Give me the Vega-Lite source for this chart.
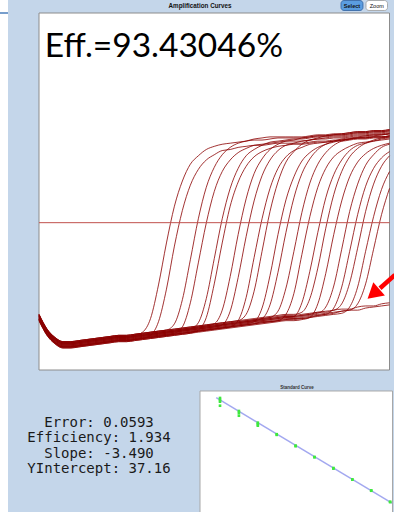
{
"$schema":"https://vega.github.io/schema/vega-lite/v6.json",
"width":386,"height":512,
"autosize":{"type":"none"},
"padding":{"left":8,"top":0,"right":0,"bottom":0},
"background":"white",
"config":{"view":{"fill":"#c4d6ea","stroke":null},"font":"Liberation Sans"},
"datasets":{
"amp":[
{"well":"A","c":[1,2,3,4,5,6,7,8,9,10,11,12,13,14,15,16,17,18,19,20,21,22,23,24,25,26,27,28,29,30,31,32,33,34,35,36,37,38,39,40,41,42,43,44,45],"f":[0.99932,0.99918,0.9991,0.99906,0.99906,0.99907,0.99908,0.99909,0.9991,0.99911,0.99912,0.99912,0.99913,0.99916,0.99929,0.99961,1.00001,1.00036,1.0006,1.00076,1.00084,1.0009,1.00093,1.00095,1.00096,1.00097,1.00098,1.00099,1.00099,1.001,1.00101,1.00101,1.00101,1.00101,1.00102,1.00103,1.00103,1.00104,1.00104,1.00105,1.00106,1.00106,1.00107,1.00107,1.00108]},
{"well":"B","c":[1,2,3,4,5,6,7,8,9,10,11,12,13,14,15,16,17,18,19,20,21,22,23,24,25,26,27,28,29,30,31,32,33,34,35,36,37,38,39,40,41,42,43,44,45],"f":[0.99928,0.99914,0.99906,0.99902,0.99902,0.99903,0.99904,0.99905,0.99906,0.99907,0.99908,0.99908,0.99909,0.9991,0.99913,0.99926,0.99957,0.99998,1.00032,1.00056,1.00071,1.0008,1.00085,1.00089,1.0009,1.00092,1.00093,1.00094,1.00094,1.00095,1.00096,1.00096,1.00096,1.00096,1.00097,1.00098,1.00098,1.00099,1.00099,1.001,1.00101,1.00101,1.00102,1.00102,1.00103]},
{"well":"C","c":[1,2,3,4,5,6,7,8,9,10,11,12,13,14,15,16,17,18,19,20,21,22,23,24,25,26,27,28,29,30,31,32,33,34,35,36,37,38,39,40,41,42,43,44,45],"f":[0.99933,0.99919,0.99911,0.99907,0.99907,0.99908,0.99909,0.9991,0.99911,0.99912,0.99913,0.99913,0.99914,0.99915,0.99916,0.99917,0.99918,0.99924,0.99947,0.99985,1.00024,1.00054,1.00073,1.00085,1.00092,1.00096,1.00098,1.001,1.00101,1.00102,1.00102,1.00102,1.00102,1.00102,1.00103,1.00104,1.00104,1.00105,1.00105,1.00106,1.00107,1.00107,1.00108,1.00108,1.00109]},
{"well":"D","c":[1,2,3,4,5,6,7,8,9,10,11,12,13,14,15,16,17,18,19,20,21,22,23,24,25,26,27,28,29,30,31,32,33,34,35,36,37,38,39,40,41,42,43,44,45],"f":[0.99929,0.99915,0.99907,0.99903,0.99903,0.99904,0.99905,0.99906,0.99907,0.99908,0.99909,0.99909,0.9991,0.99911,0.99912,0.99913,0.99914,0.99915,0.99921,0.99944,0.99982,1.0002,1.0005,1.00069,1.0008,1.00087,1.00091,1.00094,1.00095,1.00096,1.00097,1.00098,1.00098,1.00098,1.00099,1.001,1.001,1.00101,1.00101,1.00102,1.00103,1.00103,1.00104,1.00104,1.00105]},
{"well":"E","c":[1,2,3,4,5,6,7,8,9,10,11,12,13,14,15,16,17,18,19,20,21,22,23,24,25,26,27,28,29,30,31,32,33,34,35,36,37,38,39,40,41,42,43,44,45],"f":[0.99931,0.99917,0.99909,0.99905,0.99905,0.99906,0.99907,0.99908,0.99909,0.9991,0.99911,0.99911,0.99912,0.99913,0.99914,0.99915,0.99916,0.99917,0.99918,0.99919,0.99925,0.99948,0.99986,1.00024,1.00053,1.00072,1.00084,1.0009,1.00094,1.00097,1.00098,1.00099,1.001,1.001,1.00101,1.00102,1.00102,1.00103,1.00103,1.00104,1.00105,1.00105,1.00106,1.00106,1.00107]},
{"well":"F","c":[1,2,3,4,5,6,7,8,9,10,11,12,13,14,15,16,17,18,19,20,21,22,23,24,25,26,27,28,29,30,31,32,33,34,35,36,37,38,39,40,41,42,43,44,45],"f":[0.99927,0.99913,0.99905,0.99901,0.99901,0.99902,0.99903,0.99904,0.99905,0.99906,0.99907,0.99907,0.99908,0.99909,0.9991,0.99911,0.99912,0.99913,0.99914,0.99915,0.99918,0.9993,0.99962,1.00001,1.00036,1.00059,1.00074,1.00083,1.00088,1.00091,1.00093,1.00094,1.00095,1.00095,1.00096,1.00097,1.00097,1.00098,1.00098,1.00099,1.001,1.001,1.00101,1.00101,1.00102]},
{"well":"G","c":[1,2,3,4,5,6,7,8,9,10,11,12,13,14,15,16,17,18,19,20,21,22,23,24,25,26,27,28,29,30,31,32,33,34,35,36,37,38,39,40,41,42,43,44,45],"f":[0.99932,0.99918,0.9991,0.99906,0.99906,0.99907,0.99908,0.99909,0.9991,0.99911,0.99912,0.99912,0.99913,0.99914,0.99915,0.99916,0.99917,0.99918,0.99919,0.9992,0.99921,0.99922,0.99924,0.99937,0.99969,1.00009,1.00043,1.00067,1.00081,1.0009,1.00095,1.00098,1.00099,1.00101,1.00102,1.00103,1.00103,1.00104,1.00104,1.00105,1.00106,1.00106,1.00107,1.00107,1.00108]},
{"well":"H","c":[1,2,3,4,5,6,7,8,9,10,11,12,13,14,15,16,17,18,19,20,21,22,23,24,25,26,27,28,29,30,31,32,33,34,35,36,37,38,39,40,41,42,43,44,45],"f":[0.9993,0.99916,0.99908,0.99904,0.99904,0.99905,0.99906,0.99907,0.99908,0.99909,0.9991,0.9991,0.99911,0.99912,0.99913,0.99914,0.99915,0.99916,0.99917,0.99918,0.99919,0.9992,0.99921,0.99923,0.99936,0.99968,1.00007,1.00041,1.00065,1.0008,1.00089,1.00094,1.00096,1.00098,1.00099,1.001,1.00101,1.00102,1.00102,1.00103,1.00104,1.00104,1.00105,1.00105,1.00106]},
{"well":"I","c":[1,2,3,4,5,6,7,8,9,10,11,12,13,14,15,16,17,18,19,20,21,22,23,24,25,26,27,28,29,30,31,32,33,34,35,36,37,38,39,40,41,42,43,44,45],"f":[0.99928,0.99914,0.99906,0.99902,0.99902,0.99903,0.99904,0.99905,0.99906,0.99907,0.99908,0.99908,0.99909,0.9991,0.99911,0.99912,0.99913,0.99914,0.99915,0.99916,0.99917,0.99918,0.99919,0.9992,0.99921,0.99927,0.99949,0.99987,1.00024,1.00053,1.00072,1.00083,1.00089,1.00092,1.00095,1.00096,1.00097,1.00098,1.00099,1.001,1.00101,1.00101,1.00102,1.00102,1.00103]},
{"well":"J","c":[1,2,3,4,5,6,7,8,9,10,11,12,13,14,15,16,17,18,19,20,21,22,23,24,25,26,27,28,29,30,31,32,33,34,35,36,37,38,39,40,41,42,43,44,45],"f":[0.99933,0.99919,0.99911,0.99907,0.99907,0.99908,0.99909,0.9991,0.99911,0.99912,0.99913,0.99913,0.99914,0.99915,0.99916,0.99917,0.99918,0.99919,0.9992,0.99921,0.99922,0.99923,0.99924,0.99925,0.99926,0.99927,0.99933,0.99955,0.99993,1.00031,1.00059,1.00078,1.00088,1.00095,1.00099,1.00101,1.00103,1.00104,1.00105,1.00106,1.00107,1.00107,1.00108,1.00108,1.00109]},
{"well":"K","c":[1,2,3,4,5,6,7,8,9,10,11,12,13,14,15,16,17,18,19,20,21,22,23,24,25,26,27,28,29,30,31,32,33,34,35,36,37,38,39,40,41,42,43,44,45],"f":[0.99929,0.99915,0.99907,0.99903,0.99903,0.99904,0.99905,0.99906,0.99907,0.99908,0.99909,0.99909,0.9991,0.99911,0.99912,0.99913,0.99914,0.99915,0.99916,0.99917,0.99918,0.99919,0.9992,0.99921,0.99922,0.99923,0.99924,0.99926,0.99939,0.9997,1.00009,1.00042,1.00064,1.00079,1.00087,1.00092,1.00095,1.00097,1.00099,1.001,1.00101,1.00101,1.00102,1.00102,1.00103]},
{"well":"L","c":[1,2,3,4,5,6,7,8,9,10,11,12,13,14,15,16,17,18,19,20,21,22,23,24,25,26,27,28,29,30,31,32,33,34,35,36,37,38,39,40,41,42,43,44,45],"f":[0.99931,0.99917,0.99909,0.99905,0.99905,0.99906,0.99907,0.99908,0.99909,0.9991,0.99911,0.99911,0.99912,0.99913,0.99914,0.99915,0.99916,0.99917,0.99918,0.99919,0.9992,0.99921,0.99922,0.99923,0.99924,0.99925,0.99926,0.99927,0.99929,0.99942,0.99973,1.00011,1.00044,1.00067,1.00081,1.0009,1.00095,1.00098,1.001,1.00101,1.00102,1.00103,1.00104,1.00104,1.00105]},
{"well":"M","c":[1,2,3,4,5,6,7,8,9,10,11,12,13,14,15,16,17,18,19,20,21,22,23,24,25,26,27,28,29,30,31,32,33,34,35,36,37,38,39,40,41,42,43,44,45],"f":[0.99932,0.99918,0.9991,0.99906,0.99906,0.99907,0.99908,0.99909,0.9991,0.99911,0.99912,0.99912,0.99913,0.99914,0.99915,0.99916,0.99917,0.99918,0.99919,0.9992,0.99921,0.99922,0.99923,0.99924,0.99925,0.99926,0.99927,0.99928,0.99929,0.9993,0.99936,0.99958,0.99993,1.0003,1.00058,1.00076,1.00087,1.00094,1.00098,1.001,1.00101,1.00102,1.00103,1.00104,1.00105]},
{"well":"N","c":[1,2,3,4,5,6,7,8,9,10,11,12,13,14,15,16,17,18,19,20,21,22,23,24,25,26,27,28,29,30,31,32,33,34,35,36,37,38,39,40,41,42,43,44,45],"f":[0.99928,0.99914,0.99906,0.99902,0.99902,0.99903,0.99904,0.99905,0.99906,0.99907,0.99908,0.99908,0.99909,0.9991,0.99911,0.99912,0.99913,0.99914,0.99915,0.99916,0.99917,0.99918,0.99919,0.9992,0.99921,0.99922,0.99923,0.99924,0.99925,0.99926,0.99927,0.99933,0.99953,0.9999,1.00026,1.00054,1.00072,1.00083,1.00089,1.00093,1.00096,1.00097,1.00098,1.00099,1.001]},
{"well":"O","c":[1,2,3,4,5,6,7,8,9,10,11,12,13,14,15,16,17,18,19,20,21,22,23,24,25,26,27,28,29,30,31,32,33,34,35,36,37,38,39,40,41,42,43,44,45],"f":[0.9993,0.99916,0.99908,0.99904,0.99904,0.99905,0.99906,0.99907,0.99908,0.99909,0.9991,0.9991,0.99911,0.99912,0.99913,0.99914,0.99915,0.99916,0.99917,0.99918,0.99919,0.9992,0.99921,0.99922,0.99923,0.99924,0.99925,0.99926,0.99927,0.99928,0.99929,0.9993,0.99931,0.99944,0.99974,1.00011,1.00044,1.00066,1.0008,1.00089,1.00094,1.00096,1.00098,1.001,1.00101]},
{"well":"P","c":[1,2,3,4,5,6,7,8,9,10,11,12,13,14,15,16,17,18,19,20,21,22,23,24,25,26,27,28,29,30,31,32,33,34,35,36,37,38,39,40,41,42,43,44,45],"f":[0.99933,0.99919,0.99911,0.99907,0.99907,0.99908,0.99909,0.9991,0.99911,0.99912,0.99913,0.99913,0.99914,0.99915,0.99916,0.99917,0.99918,0.99919,0.9992,0.99921,0.99922,0.99923,0.99924,0.99925,0.99926,0.99927,0.99928,0.99929,0.9993,0.99931,0.99932,0.99933,0.99933,0.99935,0.99948,0.99977,1.00015,1.00047,1.00069,1.00083,1.00091,1.00096,1.00099,1.00101,1.00102]},
{"well":"Q","c":[1,2,3,4,5,6,7,8,9,10,11,12,13,14,15,16,17,18,19,20,21,22,23,24,25,26,27,28,29,30,31,32,33,34,35,36,37,38,39,40,41,42,43,44,45],"f":[0.99927,0.99913,0.99905,0.99901,0.99901,0.99902,0.99903,0.99904,0.99905,0.99906,0.99907,0.99907,0.99908,0.99909,0.9991,0.99911,0.99912,0.99913,0.99914,0.99915,0.99916,0.99917,0.99918,0.99919,0.9992,0.99921,0.99922,0.99923,0.99924,0.99925,0.99926,0.99927,0.99927,0.99928,0.9993,0.99943,0.99972,1.00009,1.00041,1.00064,1.00078,1.00086,1.00091,1.00094,1.00096]},
{"well":"R","c":[1,2,3,4,5,6,7,8,9,10,11,12,13,14,15,16,17,18,19,20,21,22,23,24,25,26,27,28,29,30,31,32,33,34,35,36,37,38,39,40,41,42,43,44,45],"f":[0.99931,0.99917,0.99909,0.99905,0.99905,0.99906,0.99907,0.99908,0.99909,0.9991,0.99911,0.99911,0.99912,0.99913,0.99914,0.99915,0.99916,0.99917,0.99918,0.99919,0.9992,0.99921,0.99922,0.99923,0.99924,0.99925,0.99926,0.99927,0.99928,0.99929,0.9993,0.99931,0.99931,0.99932,0.99933,0.99934,0.9994,0.9996,0.99995,1.00031,1.00057,1.00075,1.00085,1.00092,1.00095]},
{"well":"S","c":[1,2,3,4,5,6,7,8,9,10,11,12,13,14,15,16,17,18,19,20,21,22,23,24,25,26,27,28,29,30,31,32,33,34,35,36,37,38,39,40,41,42,43,44,45],"f":[0.99929,0.99915,0.99907,0.99903,0.99903,0.99904,0.99905,0.99906,0.99907,0.99908,0.99909,0.99909,0.9991,0.99911,0.99912,0.99913,0.99914,0.99915,0.99916,0.99917,0.99918,0.99919,0.9992,0.99921,0.99922,0.99923,0.99924,0.99925,0.99926,0.99927,0.99928,0.99929,0.99929,0.9993,0.99931,0.99932,0.99933,0.99939,0.99959,0.99993,1.00028,1.00055,1.00072,1.00082,1.00088]},
{"well":"T","c":[1,2,3,4,5,6,7,8,9,10,11,12,13,14,15,16,17,18,19,20,21,22,23,24,25,26,27,28,29,30,31,32,33,34,35,36,37,38,39,40,41,42,43,44,45],"f":[0.99932,0.99918,0.9991,0.99906,0.99906,0.99907,0.99908,0.99909,0.9991,0.99911,0.99912,0.99912,0.99913,0.99914,0.99915,0.99916,0.99917,0.99918,0.99919,0.9992,0.99921,0.99922,0.99923,0.99924,0.99925,0.99926,0.99927,0.99928,0.99929,0.9993,0.99931,0.99932,0.99932,0.99933,0.99934,0.99935,0.99936,0.99937,0.99943,0.99963,0.99996,1.00031,1.00057,1.00074,1.00084]},
{"well":"U","c":[1,2,3,4,5,6,7,8,9,10,11,12,13,14,15,16,17,18,19,20,21,22,23,24,25,26,27,28,29,30,31,32,33,34,35,36,37,38,39,40,41,42,43,44,45],"f":[0.99928,0.99914,0.99906,0.99902,0.99902,0.99903,0.99904,0.99905,0.99906,0.99907,0.99908,0.99908,0.99909,0.9991,0.99911,0.99912,0.99913,0.99914,0.99915,0.99916,0.99917,0.99918,0.99919,0.9992,0.99921,0.99922,0.99923,0.99924,0.99925,0.99926,0.99927,0.99928,0.99928,0.99929,0.9993,0.99931,0.99932,0.99933,0.99934,0.9994,0.99959,0.99993,1.00026,1.00052,1.00069]},
{"well":"V","c":[1,2,3,4,5,6,7,8,9,10,11,12,13,14,15,16,17,18,19,20,21,22,23,24,25,26,27,28,29,30,31,32,33,34,35,36,37,38,39,40,41,42,43,44,45],"f":[0.9993,0.99916,0.99908,0.99904,0.99904,0.99905,0.99906,0.99907,0.99908,0.99909,0.9991,0.9991,0.99911,0.99912,0.99913,0.99914,0.99915,0.99916,0.99917,0.99918,0.99919,0.9992,0.99921,0.99922,0.99923,0.99924,0.99925,0.99926,0.99927,0.99928,0.99929,0.9993,0.9993,0.99931,0.99932,0.99933,0.99934,0.99935,0.99936,0.99937,0.99943,0.99962,0.99995,1.00028,1.00053]},
{"well":"W","c":[1,2,3,4,5,6,7,8,9,10,11,12,13,14,15,16,17,18,19,20,21,22,23,24,25,26,27,28,29,30,31,32,33,34,35,36,37,38,39,40,41,42,43,44,45],"f":[0.99931,0.99917,0.99909,0.99905,0.99905,0.99906,0.99907,0.99908,0.99909,0.9991,0.99911,0.99911,0.99912,0.99913,0.99914,0.99915,0.99916,0.99917,0.99918,0.99919,0.9992,0.99921,0.99922,0.99923,0.99924,0.99925,0.99926,0.99927,0.99928,0.99929,0.9993,0.99931,0.99931,0.99932,0.99933,0.99935,0.99935,0.99937,0.99938,0.99938,0.9994,0.99941,0.99941,0.99943,0.99944]},
{"well":"X","c":[1,2,3,4,5,6,7,8,9,10,11,12,13,14,15,16,17,18,19,20,21,22,23,24,25,26,27,28,29,30,31,32,33,34,35,36,37,38,39,40,41,42,43,44,45],"f":[0.99928,0.99914,0.99906,0.99902,0.99902,0.99903,0.99904,0.99905,0.99906,0.99907,0.99908,0.99908,0.99909,0.9991,0.99911,0.99912,0.99913,0.99914,0.99915,0.99916,0.99917,0.99918,0.99919,0.9992,0.99921,0.99922,0.99923,0.99924,0.99926,0.99926,0.99927,0.99928,0.99929,0.99929,0.9993,0.99932,0.99933,0.99934,0.99936,0.99937,0.99937,0.99939,0.9994,0.99941,0.99942]}
],
"std":[{"x":-2,"ct":44.76},{"x":-2,"ct":44.14},{"x":-2,"ct":43.62},{"x":-2,"ct":42.38},{"x":-1,"ct":40.75},{"x":-1,"ct":40.14},{"x":-1,"ct":39.3},{"x":0,"ct":37.15},{"x":0,"ct":36.66},{"x":0,"ct":36.24},{"x":1,"ct":33.6},{"x":1,"ct":33.4},{"x":2,"ct":30.1},{"x":2,"ct":29.9},{"x":3,"ct":26.6},{"x":3,"ct":26.5},{"x":4,"ct":23.2},{"x":4,"ct":23.0},{"x":5,"ct":19.7},{"x":5,"ct":19.6},{"x":6,"ct":16.3},{"x":6,"ct":16.2},{"x":7,"ct":12.8},{"x":7,"ct":12.7}],
"fit":[{"x":-2.2,"ct":44.84},{"x":7.1,"ct":12.38}]
},
"resolve":{"scale":{"x":"independent","y":"independent"}},
"layer":[
{"layer":[
{"data":{"values":[{}]},"mark":{"type":"rect","fill":"white","stroke":"#8c8c8c","strokeWidth":1},
 "encoding":{"x":{"datum":1,"type":"quantitative","scale":{"domain":[1,45],"range":[31,381.5],"nice":false,"zero":false},"axis":null},"x2":{"datum":45},
 "y":{"datum":0.9988,"type":"quantitative","scale":{"domain":[0.9988,1.0022],"range":[370,13],"nice":false,"zero":false},"axis":null},"y2":{"datum":1.0022}}},
{"data":{"name":"amp"},"transform":[{"flatten":["c","f"]}],
 "mark":{"type":"line","color":"#8b0000","strokeWidth":1,"opacity":0.8,"interpolate":"monotone"},
 "encoding":{
  "x":{"field":"c","type":"quantitative","scale":{"domain":[1,45],"range":[31,381.5],"nice":false,"zero":false},
   "axis":{"orient":"bottom","offset":-142,"values":[1,2,3,4,5,6,7,8,9,10,11,12,13,14,15,16,17,18,19,20,21,22,23,24,25,26,27,28,29,30,31,32,33,34,35,36,37,38,39,40,41,42,43,44,45],"format":"d","title":"Cycles","titleFontSize":6.5,"titleFontWeight":"bold","titleColor":"#111","titlePadding":1,"labelFontSize":5.8,"labelColor":"#222","labelPadding":0,"labelFlush":false,"labelOverlap":false,"labelBound":false,"tickSize":2,"tickColor":"#777","domain":false,"grid":false}},
  "y":{"field":"f","type":"quantitative","scale":{"domain":[0.9988,1.0022],"range":[370,13],"nice":false,"zero":false},
   "axis":{"orient":"left","offset":-31,"values":[0.9989,0.999,0.9991,0.9992,0.9993,0.9994,0.9995,0.9996,0.9997,0.9998,0.9999,1,1.0001,1.0002,1.0003,1.0004,1.0005,1.0006,1.0007,1.0008,1.0009,1.001,1.0011,1.0012,1.0013,1.0014,1.0015,1.0016,1.0017,1.0018,1.0019,1.002,1.0021],"labelExpr":"abs(datum.value-1)<0.000001 ? '1.000' : (abs(datum.value-1.001)<0.000001 ? '1.001' : '')","title":"Fluorescence (518-660)","titleFontSize":5.5,"titleFontWeight":"bold","titleColor":"#222","titlePadding":7,"labelFontSize":5,"labelColor":"#555","labelPadding":2,"labelFlush":false,"labelOverlap":false,"tickSize":2,"tickColor":"#888","domain":false,"grid":false}},
  "detail":{"field":"well","type":"nominal"}}},
{"data":{"values":[{}]},"mark":{"type":"rule","color":"#c0504d","strokeWidth":1},
 "encoding":{"x":{"datum":1,"type":"quantitative","axis":null},"x2":{"datum":45},"y":{"datum":1.000203,"type":"quantitative","axis":null}}},
{"data":{"values":[{}]},"mark":{"type":"rule","color":"#4a7ebb","strokeWidth":1.5},
 "encoding":{"x":{"datum":-3.9,"type":"quantitative","axis":null},"x2":{"datum":-2.89},"y":{"datum":1.0022,"type":"quantitative","axis":null}}},
{"data":{"values":[{}]},"mark":{"type":"text","text":"Amplification Curves","fontSize":6.3,"fontWeight":"bold","color":"#111","align":"center","baseline":"middle"},
 "encoding":{"x":{"datum":21.21,"type":"quantitative","axis":null},"y":{"datum":1.002271,"type":"quantitative","axis":null}}},
{"data":{"values":[{}]},"mark":{"type":"rect","fill":"#5b9de0","stroke":"#2f5f9e","strokeWidth":0.8,"cornerRadius":3},
 "encoding":{"x":{"datum":38.91,"type":"quantitative","axis":null},"x2":{"datum":41.67},"y":{"datum":1.002224,"type":"quantitative","axis":null},"y2":{"datum":1.002319}}},
{"data":{"values":[{}]},"mark":{"type":"rect","fill":"white","stroke":"#9a9a9a","strokeWidth":0.8,"cornerRadius":3},
 "encoding":{"x":{"datum":42.05,"type":"quantitative","axis":null},"x2":{"datum":44.75},"y":{"datum":1.002224,"type":"quantitative","axis":null},"y2":{"datum":1.002319}}},
{"data":{"values":[{}]},"mark":{"type":"text","text":"Select","fontSize":5.5,"fontWeight":"bold","color":"#111","align":"center","baseline":"middle"},
 "encoding":{"x":{"datum":40.29,"type":"quantitative","axis":null},"y":{"datum":1.002271,"type":"quantitative","axis":null}}},
{"data":{"values":[{}]},"mark":{"type":"text","text":"Zoom","fontSize":5.5,"color":"#111","align":"center","baseline":"middle"},
 "encoding":{"x":{"datum":43.4,"type":"quantitative","axis":null},"y":{"datum":1.002271,"type":"quantitative","axis":null}}},
{"data":{"values":[{}]},"mark":{"type":"text","text":"Eff.=93.43046%","font":"Lato","fontSize":33.5,"color":"#000","align":"left","baseline":"alphabetic"},
 "encoding":{"x":{"datum":1.72,"type":"quantitative","axis":null},"y":{"datum":1.001781,"type":"quantitative","axis":null}}},
{"data":{"values":[{}]},"mark":{"type":"text","text":["Error: 0.0593","Efficiency: 1.934","Slope: -3.490","YIntercept: 37.16"],"font":"DejaVu Sans Mono","fontSize":14,"lineHeight":15.5,"color":"#1a1a1a","align":"center","baseline":"middle"},
 "encoding":{"x":{"datum":8.53,"type":"quantitative","axis":null},"y":{"datum":0.998298,"type":"quantitative","axis":null}}},
{"data":{"values":[{}]},"mark":{"type":"rule","color":"#ff0000","strokeWidth":4.5},
 "encoding":{"x":{"datum":45.69,"type":"quantitative","axis":null},"x2":{"datum":43.81},"y":{"datum":0.999705,"type":"quantitative","axis":null},"y2":{"datum":0.999579}}},
{"data":{"values":[{}]},"mark":{"type":"point","shape":"triangle","filled":true,"size":310,"angle":229,"color":"#ff0000","opacity":1},
 "encoding":{"x":{"datum":43.21,"type":"quantitative","axis":null},"y":{"datum":0.999541,"type":"quantitative","axis":null}}}
]},
{"layer":[
{"data":{"values":[{}]},"mark":{"type":"rect","fill":"white","stroke":"#a8a8a8","strokeWidth":1},
 "encoding":{"x":{"datum":-3.058,"type":"quantitative","scale":{"domain":[-2.265,7.1],"range":[207,384],"nice":false,"zero":false},"axis":null},"x2":{"datum":7.127},
 "y":{"datum":9.34,"type":"quantitative","scale":{"domain":[11.19,45.37],"range":[507,396],"nice":false,"zero":false},"axis":null},"y2":{"datum":46.91}}},
{"data":{"name":"fit"},"mark":{"type":"line","color":"#a3a8f0","strokeWidth":1.5},
 "encoding":{"x":{"field":"x","type":"quantitative","axis":null},"y":{"field":"ct","type":"quantitative","axis":null}}},
{"data":{"name":"std"},"mark":{"type":"point","shape":"square","filled":true,"size":7,"color":"#3ee83e","opacity":1},
 "encoding":{
  "x":{"field":"x","type":"quantitative","scale":{"domain":[-2.265,7.1],"range":[207,384],"nice":false,"zero":false},
   "axis":{"orient":"bottom","offset":-5,"values":[-1.77,-0.98,-0.15,0.7,1.53,2.32,3.17,3.99,4.83,5.64,6.47],"labelExpr":"format(pow(10, round(datum.value)), '~r')","labelFontSize":3.2,"labelColor":"#777","labelPadding":1,"labelFlush":false,"labelOverlap":false,"tickSize":1.5,"tickColor":"#999","domainColor":"#999","title":null,"grid":false}},
  "y":{"field":"ct","type":"quantitative","scale":{"domain":[11.19,45.37],"range":[507,396],"nice":false,"zero":false},
   "axis":{"orient":"left","offset":-207,"values":[12,13,14,15,16,17,18,19,20,21,22,23,24,25,26,27,28,29,30,31,32,33,34,35,36,37,38,39,40,41,42,43,44,45],"labelFontSize":3,"labelColor":"#777","labelPadding":1,"labelOverlap":false,"tickSize":1.5,"tickColor":"#999","domainColor":"#999","title":"Cycle (Ct)","titleFontSize":3.5,"titleFontWeight":"normal","titleColor":"#555","titlePadding":2,"grid":false}}}},
{"data":{"values":[{}]},"mark":{"type":"text","text":"Standard Curve","fontSize":4.5,"fontWeight":"bold","color":"#333","align":"center","baseline":"middle"},
 "encoding":{"x":{"datum":2.074,"type":"quantitative","axis":null},"y":{"datum":47.84,"type":"quantitative","axis":null}}}
]}
]
}
